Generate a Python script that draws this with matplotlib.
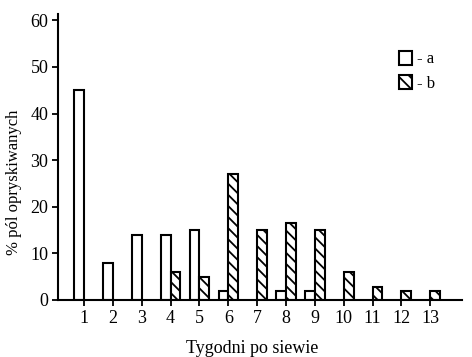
import numpy as np
import matplotlib.pyplot as plt

# data
weeks = [1, 2, 3, 4, 5, 6, 7, 8, 9, 10, 11, 12, 13]
series_a = [45, 8, 14, 14, 15, 2, 0, 2, 2, 0, 0, 0, 0]
series_b = [0, 0, 0, 6, 5, 27, 15, 16.6, 15, 6, 2.7, 2, 2]
y_ticks = [0, 10, 20, 30, 40, 50, 60]

plt.rcParams['font.family'] = ['Liberation Serif', 'DejaVu Serif']
plt.rcParams['hatch.linewidth'] = 1.3

fig = plt.figure(figsize=(4.72, 3.57), dpi=100)
ax = fig.add_axes([0.123, 0.16, 0.856, 0.80])

x = np.array(weeks)
w = 0.34
# zero-height bars are not drawn in the original
xa = [xi for xi, v in zip(x, series_a) if v > 0]
va = [v for v in series_a if v > 0]
xb = [xi for xi, v in zip(x, series_b) if v > 0]
vb = [v for v in series_b if v > 0]

ax.bar(np.array(xa) - w, va, width=w, align='edge', color='white',
       edgecolor='black', linewidth=1.5, label='- a')
ax.bar(xb, vb, width=w, align='edge', color='white',
       edgecolor='black', linewidth=1.5, hatch='\\\\\\', label='- b')

ax.set_xlim(0.1, 14.1)
ax.set_ylim(0, 61.3)
ax.set_xticks(weeks)
ax.set_yticks(y_ticks)
ax.tick_params(labelsize=13, width=1.3, length=4, direction='out', pad=3)

for s in ['top', 'right']:
    ax.spines[s].set_visible(False)
for s in ['left', 'bottom']:
    ax.spines[s].set_linewidth(1.5)

ax.set_xlabel('Tygodni po siewie', fontsize=13)
ax.set_ylabel('% pól opryskiwanych', fontsize=12)
ax.xaxis.set_label_coords(0.48, -0.14)
ax.yaxis.set_label_coords(-0.09, 0.41)

ax.legend(loc='upper left', bbox_to_anchor=(0.807, 0.925), frameon=False,
          handlelength=0.75, handleheight=0.9, handletextpad=0.3,
          labelspacing=0.45, fontsize=12)

fig.savefig('out.png', dpi=100)
